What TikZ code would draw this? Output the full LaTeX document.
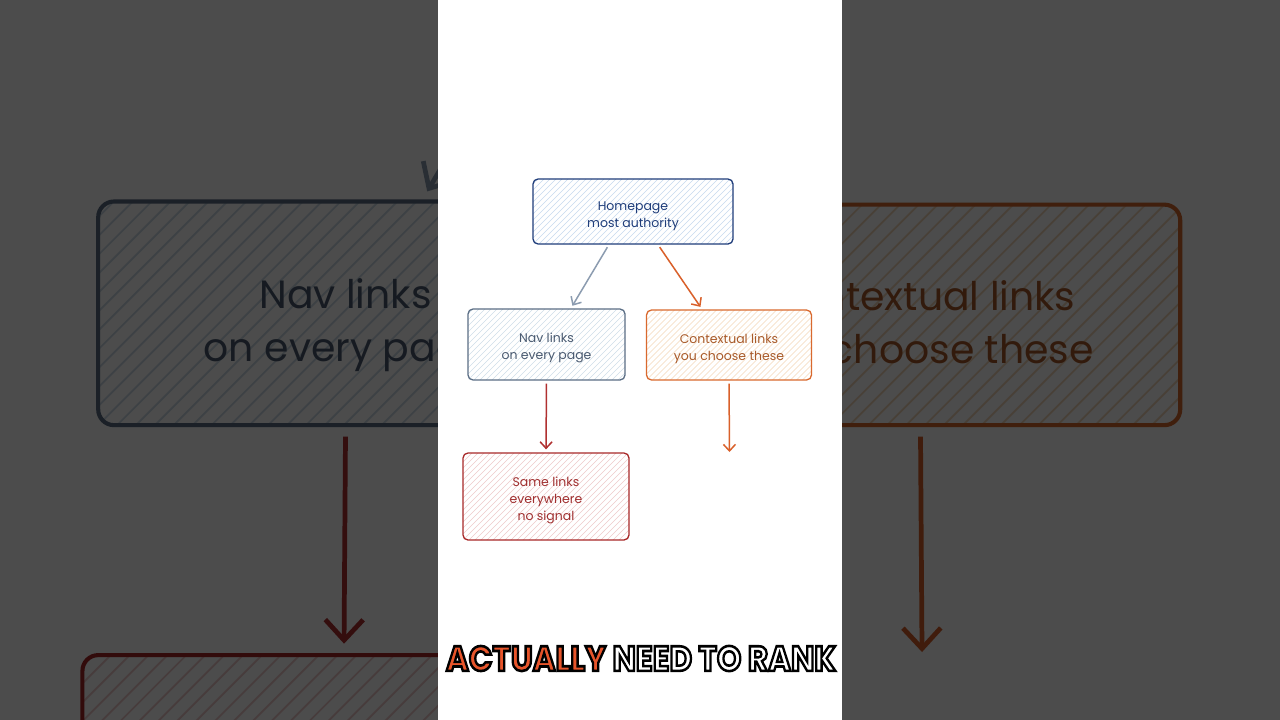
\documentclass[tikz,border=0pt]{standalone}
\usepackage{fontspec}
\setmainfont{Poppins}
\usetikzlibrary{arrows.meta}
\definecolor{homeC}{HTML}{1F3D7A}
\definecolor{homeH}{HTML}{C6DAEE}
\definecolor{navC}{HTML}{5B6E85}
\definecolor{navT}{HTML}{4A5A70}
\definecolor{navH}{HTML}{CFDDE8}
\definecolor{ctxC}{HTML}{D9692E}
\definecolor{ctxT}{HTML}{A85A2A}
\definecolor{ctxH}{HTML}{F4D8BA}
\definecolor{samC}{HTML}{A82828}
\definecolor{samT}{HTML}{A03030}
\definecolor{samH}{HTML}{EFCACA}
\definecolor{arrNav}{HTML}{8C9CB0}
\definecolor{arrCtx}{HTML}{D9602A}
\definecolor{arrSam}{HTML}{B03030}
\definecolor{capO}{HTML}{E8552B}
\newcommand\setdg[1]{%
  \def\dgs{#1}%
  \pgfmathsetmacro\fsz{12.5*#1}%
  \pgfmathsetmacro\fbl{17*#1}%
  \pgfmathsetmacro\lwb{1.3*#1}%
  \pgfmathsetmacro\lwh{0.55*#1}%
  \pgfmathsetmacro\rcv{5*#1}%
  \pgfmathsetmacro\hsp{6*#1}%
  \pgfmathsetmacro\hln{220*#1}%
  \pgfmathsetmacro\alen{6.5*#1}%
  \pgfmathsetmacro\awid{12*#1}%
  \pgfmathsetmacro\shv{3*#1}%
  \pgfmathsetmacro\lwa{1.5*#1}%
  \pgfmathsetmacro\shx{640*(1-#1)}%
  \pgfmathsetmacro\shy{359*(1-#1)}%
}
\newcommand\tpad{\rule{0pt}{1.38em}}
\tikzset{
  hatched/.style={path picture={\pgftransformreset
    \foreach \k in {-60,...,60}{\draw[#1, line width=\lwh pt]
      (path picture bounding box.south west) ++(\k*\hsp,0) -- ++(\hln,-\hln);}}},
  box/.style={rectangle, rounded corners=\rcv pt, line width=\lwb pt, fill=white,
    inner sep=0pt, align=center, font=\fontsize{\fsz}{\fbl}\selectfont},
  arr/.style={line width=\lwa pt, -{Straight Barb[length=\alen pt, width=\awid pt]},
    shorten <=\shv pt, shorten >=\shv pt},
}
\newcommand\drawdiagram{%
  \node[box, draw=homeC, text=homeC, hatched=homeH, minimum width=\dgs*200pt, minimum height=\dgs*65pt]
    (home) at (633,211.5) {\tpad Homepage\\most authority};
  \node[box, draw=navC, text=navT, hatched=navH, minimum width=\dgs*157pt, minimum height=\dgs*71pt]
    (nav) at (546.5,344.5) {\tpad Nav links\\on every page};
  \node[box, draw=ctxC, text=ctxT, hatched=ctxH, minimum width=\dgs*165pt, minimum height=\dgs*70pt]
    (ctx) at (729,345) {\tpad Contextual links\\you choose these};
  \node[box, draw=samC, text=samT, hatched=samH, minimum width=\dgs*166pt, minimum height=\dgs*87pt]
    (same) at (546,496.5) {\tpad Same links\\everywhere\\no signal};
  \coordinate (ctxend) at (729.5,452);
  \draw[arr, arrNav] (home.234.7) -- (nav.56.5);
  \draw[arr, arrCtx] (home.307.6) -- (ctx.127.1);
  \draw[arr, arrSam] (nav.south) -- (same.north);
  \draw[arr, arrCtx, shorten >=0pt] (ctx.south) -- (ctxend);
}
\begin{document}
\begin{tikzpicture}[x=1pt, y=-1pt]
  \useasboundingbox (0,0) rectangle (1280,720);
  \begin{scope}
    \clip (0,0) rectangle (1280,720);
    \fill[white] (0,0) rectangle (1280,720);
    \setdg{3.15}
    \begin{scope}[shift={(\shx,\shy)}, scale=\dgs, name prefix=bg-]
      \drawdiagram
    \end{scope}
    \fill[black, opacity=0.7] (0,0) rectangle (1280,720);
  \end{scope}
  \fill[white] (438,0) rectangle (842,720);
  \setdg{1}
  \begin{scope}[shift={(\shx,\shy)}, scale=\dgs]
    \drawdiagram
  \end{scope}
  \node[inner sep=0pt] (cap) at (641,658.5) {\resizebox{390pt}{25pt}{\fontsize{30}{30}\selectfont\bfseries
    \color{capO}\special{pdf:literal direct 0 0 0 RG 2 Tr 2.2 w}ACTUALLY\
    \color{white}\special{pdf:literal direct 0 0 0 RG}NEED TO RANK\special{pdf:literal direct 0 Tr}}};
\end{tikzpicture}
\end{document}
